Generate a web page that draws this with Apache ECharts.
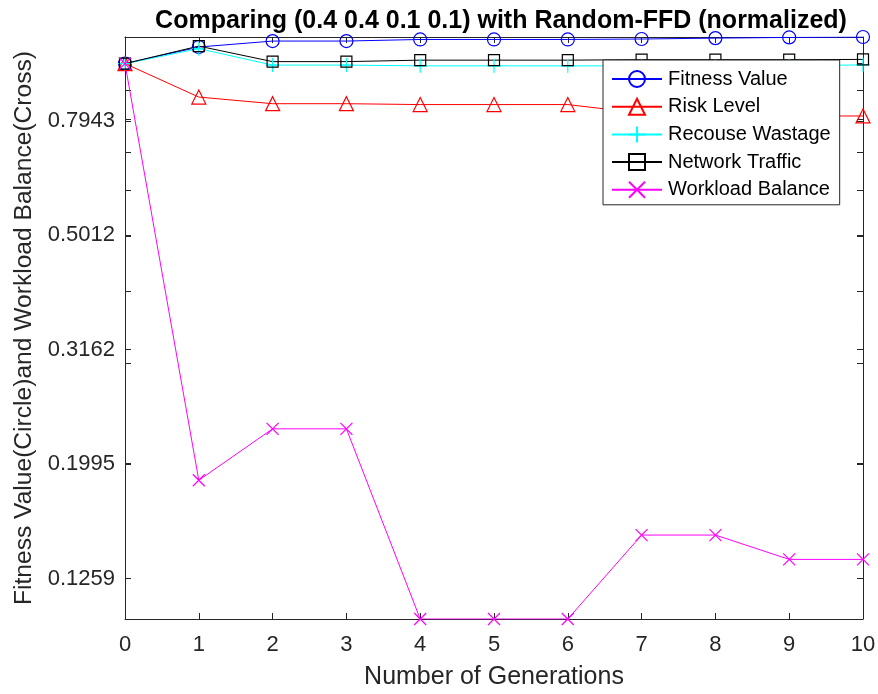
<!DOCTYPE html>
<html>
<head>
<meta charset="utf-8">
<script src="https://cdn.jsdelivr.net/npm/echarts@6/dist/echarts.min.js"></script>
<style>
  html, body { margin: 0; padding: 0; background: #fff; }
  #chart { width: 878px; height: 694px; }
</style>
</head>
<body>
<div id="chart"></div>
<script>
// generations on the x axis
const generations = [0, 1, 2, 3, 4, 5, 6, 7, 8, 9, 10];

// normalized values (log y axis)
const fitnessValue     = [1.0, 1.069, 1.095, 1.095, 1.102, 1.102, 1.102, 1.104, 1.108, 1.111, 1.113];
const riskLevel        = [1.0, 0.874, 0.851, 0.851, 0.848, 0.848, 0.848, 0.819, 0.815, 0.810, 0.810];
const resourceWastage  = [1.0, 1.062, 0.994, 0.994, 0.991, 0.991, 0.991, 0.991, 0.991, 0.991, 0.995];
const networkTraffic   = [1.0, 1.073, 1.008, 1.008, 1.014, 1.014, 1.014, 1.016, 1.016, 1.016, 1.017];
const workloadBalance  = [1.0, 0.187, 0.230, 0.230, 0.107, 0.107, 0.107, 0.150, 0.150, 0.136, 0.136];

// y tick labels (10^-0.9 ... 10^-0.1) and minor log ticks
const yTicks = [0.1259, 0.1995, 0.3162, 0.5012, 0.7943];
const yMinorTicks = [0.2, 0.3, 0.4, 0.5, 0.6, 0.7, 0.8, 0.9, 1.0];

// axis is tight around the data
const all = [].concat(fitnessValue, riskLevel, resourceWastage, networkTraffic, workloadBalance);
const yMin = Math.min.apply(null, all);
const yMax = Math.max.apply(null, all);

const FONT = 'Liberation Sans, Arial, Helvetica, sans-serif';
const AXIS_COLOR = '#262626';

function pairs(values) {
  return generations.map((g, i) => [g, values[i]]);
}

const plusPath = 'path://M0,-10 L0,10 M-10,0 L10,0';
const crossPath = 'path://M-10,-10 L10,10 M10,-10 L-10,10';

function makeSeries(name, values, color, symbol, size) {
  return {
    name: name,
    type: 'line',
    data: pairs(values),
    symbol: symbol,
    symbolSize: size,
    showAllSymbol: true,
    lineStyle: { color: color, width: 1 },
    itemStyle: { color: 'transparent', borderColor: color, borderWidth: 1.2 },
    emphasis: { disabled: true },
    animation: false
  };
}

function xAxisOpt(extra) {
  return Object.assign({
    type: 'value',
    min: 0,
    max: 10,
    interval: 1,
    axisLine: { show: true, onZero: false, lineStyle: { color: AXIS_COLOR, width: 1 } },
    axisTick: { show: true, inside: true, length: 6, lineStyle: { color: AXIS_COLOR } },
    splitLine: { show: false }
  }, extra);
}

function yAxisOpt(extra) {
  return Object.assign({
    type: 'log',
    logBase: 10,
    min: yMin,
    max: yMax,
    axisLine: { show: true, onZero: false, lineStyle: { color: AXIS_COLOR, width: 1 } },
    axisTick: { show: true, inside: true, length: 6, customValues: yTicks.concat(yMinorTicks), lineStyle: { color: AXIS_COLOR } },
    splitLine: { show: false }
  }, extra);
}

const chart = echarts.init(document.getElementById('chart'));
chart.setOption({
  backgroundColor: '#fff',
  animation: false,
  title: {
    text: 'Comparing (0.4 0.4 0.1 0.1) with Random-FFD (normalized)',
    left: 496,
    top: 4,
    textAlign: 'center',
    textStyle: { fontFamily: FONT, fontSize: 25, fontWeight: 'bold', color: '#000' }
  },
  grid: { left: 125, right: 15, top: 37, bottom: 75, containLabel: false, outerBoundsMode: 'none' },
  legend: {
    orient: 'vertical',
    left: 603,
    top: 60,
    padding: [9, 9, 5, 8],
    itemWidth: 50,
    itemHeight: 20,
    itemGap: 7.7,
    backgroundColor: '#fff',
    borderColor: AXIS_COLOR,
    borderWidth: 1,
    textStyle: { fontFamily: FONT, fontSize: 20, color: '#000', padding: [0, 0, 0, 1] },
    data: ['Fitness Value', 'Risk Level', 'Recouse Wastage', 'Network Traffic', 'Workload Balance']
  },
  xAxis: [
    xAxisOpt({
      position: 'bottom',
      name: 'Number of Generations',
      nameLocation: 'middle',
      nameGap: 46,
      nameTextStyle: { fontFamily: FONT, fontSize: 25, color: AXIS_COLOR },
      axisLabel: { fontFamily: FONT, fontSize: 22, color: AXIS_COLOR, margin: 15 }
    }),
    xAxisOpt({ position: 'top', axisLabel: { show: false } })
  ],
  yAxis: [
    yAxisOpt({
      position: 'left',
      name: 'Fitness Value(Circle)and Workload Balance(Cross)',
      nameLocation: 'middle',
      nameGap: 82,
      nameTextStyle: { fontFamily: FONT, fontSize: 24.6, color: AXIS_COLOR },
      axisLabel: {
        fontFamily: FONT, fontSize: 22, color: AXIS_COLOR, margin: 10,
        customValues: yTicks,
        formatter: function (v) { return Number(v).toFixed(4); }
      }
    }),
    yAxisOpt({ position: 'right', axisLabel: { show: false } })
  ],
  series: [
    makeSeries('Fitness Value', fitnessValue, '#0000ff', 'circle', 13),
    makeSeries('Risk Level', riskLevel, '#ff0000', 'triangle', 14),
    makeSeries('Recouse Wastage', resourceWastage, '#00ffff', plusPath, 14),
    makeSeries('Network Traffic', networkTraffic, '#000000', 'rect', 11),
    makeSeries('Workload Balance', workloadBalance, '#ff00ff', crossPath, 12)
  ]
});
</script>
</body>
</html>
